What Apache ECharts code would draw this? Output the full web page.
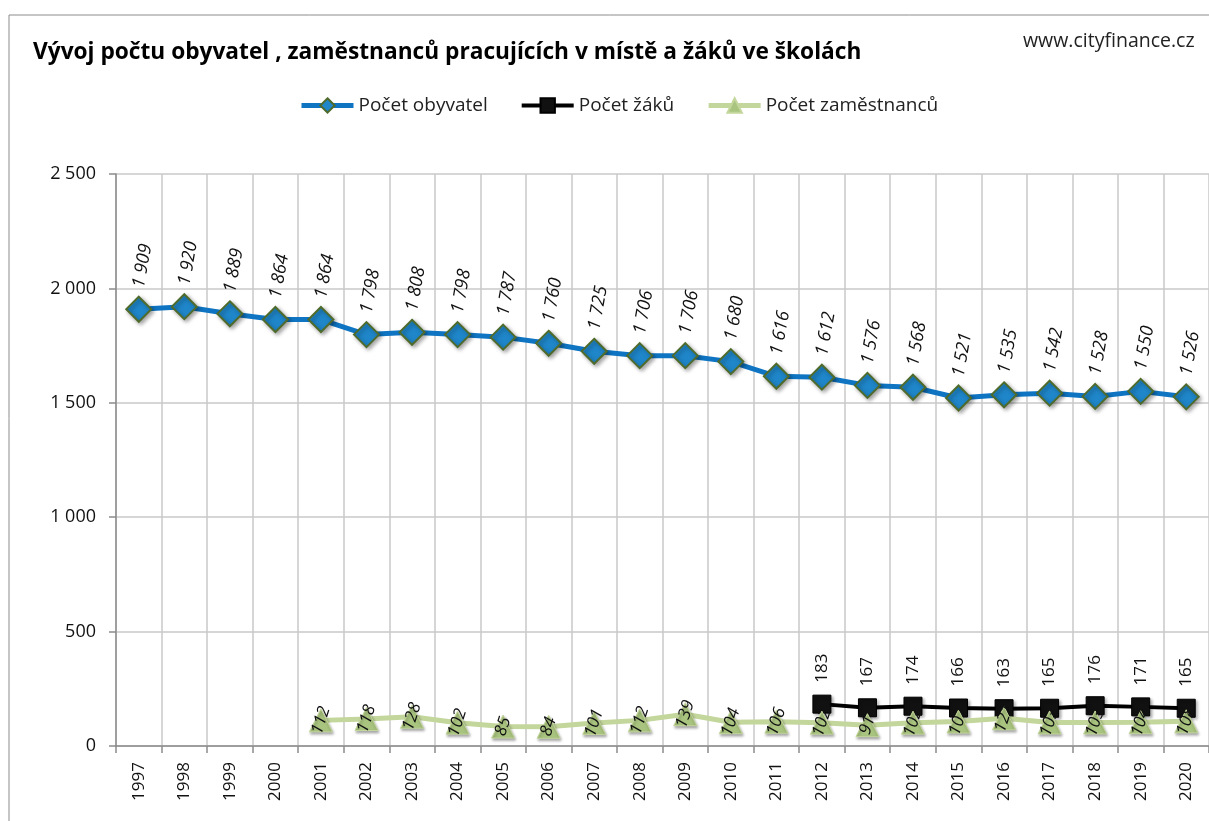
<!DOCTYPE html>
<html>
<head>
    <meta charset="utf-8" />
    <script src="https://cdn.jsdelivr.net/npm/echarts@6/dist/echarts.min.js"></script>
    <style>
        body { margin: 0px; overflow: hidden; background: #fff; }
        #main { width: 1209px; height: 821px; }
    </style>
</head>
<body>
    <div id="main"></div>
<script type="text/javascript">
    var years = ['1997', '1998', '1999', '2000', '2001', '2002', '2003', '2004', '2005', '2006', '2007', '2008',
        '2009', '2010', '2011', '2012', '2013', '2014', '2015', '2016', '2017', '2018', '2019', '2020'];
    // Počet obyvatel
    var obyvatel = [1909, 1920, 1889, 1864, 1864, 1798, 1808, 1798, 1787, 1760, 1725, 1706,
        1706, 1680, 1616, 1612, 1576, 1568, 1521, 1535, 1542, 1528, 1550, 1526];
    // Počet žáků
    var zaku = [null, null, null, null, null, null, null, null, null, null, null, null,
        null, null, null, 183, 167, 174, 166, 163, 165, 176, 171, 165];
    // Počet zaměstnanců
    var zamestnancu = [null, null, null, null, 112, 118, 128, 102, 85, 84, 101, 112,
        139, 104, 106, 102, 91, 102, 107, 121, 103, 103, 104, 108];

    function fmt(v) {
        return String(v).replace(/\B(?=(\d{3})+(?!\d))/g, ' ');
    }

    var chart = echarts.init(document.getElementById('main'));
    var font = 'Open Sans, Noto Sans, sans-serif';

    var option = {
        animation: false,
        textStyle: { fontFamily: font },
        title: [{
            text: 'Vývoj počtu obyvatel , zaměstnanců pracujících v místě a žáků ve školách',
            left: 28, top: 36,
            textStyle: { fontSize: 22.7, fontWeight: 'bold', color: '#000', fontFamily: font }
        }, {
            text: 'www.cityfinance.cz',
            left: 1018, top: 26,
            textStyle: { fontSize: 19.5, fontWeight: 'normal', color: '#222', fontFamily: font }
        }],
        graphic: [{
            type: 'rect',
            shape: { x: 9, y: 15, width: 1220, height: 830 },
            style: { fill: 'none', stroke: '#8c8c8c', lineWidth: 1 }
        }],
        legend: {
            top: 91, left: 294,
            itemWidth: 52, itemHeight: 18, itemGap: 32,
            textStyle: { fontSize: 19, color: '#222' },
            data: [
                { name: 'Počet obyvatel', lineStyle: { width: 5 } },
                { name: 'Počet žáků', lineStyle: { width: 4 } },
                { name: 'Počet zaměstnanců', lineStyle: { width: 5 } }
            ]
        },
        grid: { left: 116, top: 174, width: 1104, bottom: 75, containLabel: false },
        xAxis: {
            type: 'category',
            data: years,
            boundaryGap: true,
            axisLine: { lineStyle: { color: '#8c8c8c', width: 1.5 } },
            axisTick: { show: true, length: 7, alignWithLabel: false, lineStyle: { color: '#8c8c8c', width: 1.5 } },
            axisLabel: { rotate: 90, fontSize: 17, color: '#111', margin: 16 },
            splitLine: { show: true, lineStyle: { color: '#c8c8c8', width: 1.5 } }
        },
        yAxis: {
            type: 'value',
            min: 0, max: 2500, interval: 500,
            axisLine: { show: true, lineStyle: { color: '#8c8c8c', width: 1.5 } },
            axisTick: { show: true, length: 7, lineStyle: { color: '#8c8c8c', width: 1.5 } },
            axisLabel: { fontSize: 18, color: '#111', margin: 20, formatter: fmt },
            splitLine: { show: true, lineStyle: { color: '#c8c8c8', width: 1.5 } }
        },
        series: [
            {
                name: 'Počet obyvatel',
                type: 'line',
                data: obyvatel,
                symbol: 'diamond',
                symbolSize: 25,
                lineStyle: { color: '#0f75c3', width: 5 },
                itemStyle: {
                    color: '#1f86c9', borderColor: '#4f6b2c', borderWidth: 2,
                    shadowColor: 'rgba(0,0,0,0.35)', shadowBlur: 4, shadowOffsetX: 2, shadowOffsetY: 2
                },
                label: {
                    show: true, position: 'top', distance: 8, rotate: 80,
                    align: 'left', verticalAlign: 'middle',
                    fontSize: 18, fontStyle: 'italic', color: '#111',
                    formatter: function (p) { return fmt(p.value); }
                },
                z: 3
            },
            {
                name: 'Počet žáků',
                type: 'line',
                data: zaku,
                symbol: 'rect',
                symbolSize: 18,
                lineStyle: { color: '#000', width: 4 },
                itemStyle: {
                    color: '#111', borderColor: '#000', borderWidth: 1,
                    shadowColor: 'rgba(0,0,0,0.35)', shadowBlur: 3, shadowOffsetX: 2, shadowOffsetY: 2
                },
                label: {
                    show: true, position: 'top', distance: 12, rotate: 90,
                    align: 'left', verticalAlign: 'middle',
                    fontSize: 17, color: '#111'
                },
                z: 4
            },
            {
                name: 'Počet zaměstnanců',
                type: 'line',
                data: zamestnancu,
                symbol: 'triangle',
                symbolSize: 23,
                lineStyle: { color: '#c3d69b', width: 5 },
                itemStyle: {
                    color: '#a9c47f', borderColor: '#c3d69b', borderWidth: 1,
                    shadowColor: 'rgba(0,0,0,0.35)', shadowBlur: 3, shadowOffsetX: 1, shadowOffsetY: 2
                },
                label: {
                    show: true, position: 'inside', rotate: 72,
                    fontSize: 17, fontStyle: 'italic', color: '#111'
                },
                z: 5
            }
        ]
    };

    chart.setOption(option);
</script>
</body>
</html>
